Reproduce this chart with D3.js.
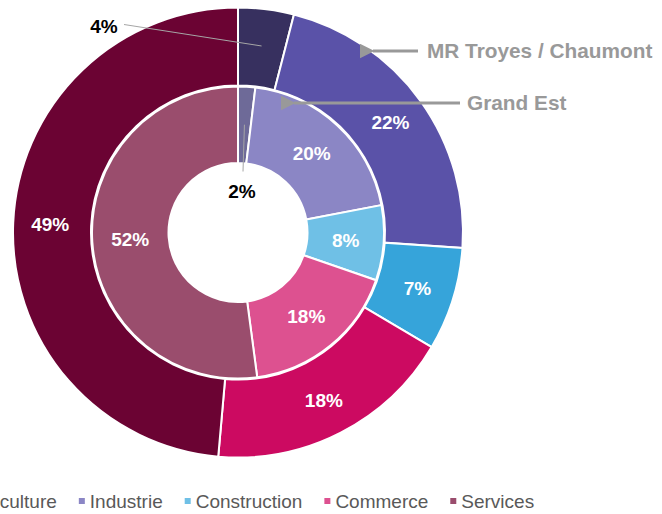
<html>
<head>
<meta charset="utf-8">
<script src="https://d3js.org/d3.v7.min.js"></script>
<style>
  body { margin: 0; background: #ffffff; }
  text { font-family: "Liberation Sans", Arial, sans-serif; }
</style>
</head>
<body>
<div class="chart"></div>
<script>
    // données (étiquettes arrondies)
    var secteurs = ['Agriculture', 'Industrie', 'Construction', 'Commerce', 'Services'];
    var troyes = [4.0, 22.1, 7.4, 17.9, 48.6];     // anneau extérieur
    var grandEst = [1.9, 20.1, 8.3, 17.6, 52.1];   // anneau intérieur
    var seriesNames = ['MR Troyes / Chaumont', 'Grand Est'];

    var outerColors = ['#37305f', '#5a52a8', '#36a4da', '#cc0a61', '#6b0333'];
    var innerColors = ['#6e6a98', '#8b86c5', '#6fc0e6', '#dd5190', '#9a4d6d'];

    var width = 662, height = 514;
    var cx = 238, cy = 232.5;

    var svg = d3.select('.chart').append('svg')
        .attr('width', width).attr('height', height);

    var pie = d3.pie().sort(null).value(function (d) { return d; });

    var rings = [
        { values: troyes, colors: outerColors, inner: 147, outer: 225, labelR: 188 },
        { values: grandEst, colors: innerColors, inner: 69.5, outer: 146, labelR: 108 }
    ];

    var g = svg.append('g').attr('transform', 'translate(' + cx + ',' + cy + ')');

    rings.forEach(function (ring, ri) {
        var arc = d3.arc().innerRadius(ring.inner).outerRadius(ring.outer);
        var labelArc = d3.arc().innerRadius(ring.labelR).outerRadius(ring.labelR);
        var arcs = pie(ring.values);

        g.append('g').selectAll('path')
            .data(arcs).enter()
            .append('path')
            .attr('d', arc)
            .attr('fill', function (d, i) { return ring.colors[i]; })
            .attr('stroke', '#ffffff')
            .attr('stroke-width', 2);

        arcs.forEach(function (d) {
            var c = labelArc.centroid(d);
            var pos = c, color = '#ffffff';
            if (d.value < 5) {
                // petites parts : étiquette déportée avec trait de rappel
                color = '#000000';
                pos = ri === 0 ? [-134, -206] : [4, -41];
                var start = ri === 0 ? [pos[0] + 20, pos[1] - 2] : [pos[0] + 1, pos[1] - 20];
                g.append('line')
                    .attr('x1', start[0]).attr('y1', start[1])
                    .attr('x2', c[0]).attr('y2', c[1])
                    .attr('stroke', '#a6a6a6').attr('stroke-width', 1);
            }
            g.append('text')
                .attr('x', pos[0]).attr('y', pos[1])
                .attr('dy', '0.36em')
                .attr('text-anchor', 'middle')
                .style('font-size', '19px')
                .style('font-weight', 'bold')
                .attr('fill', color)
                .text(Math.round(d.value) + '%');
        });
    });

    // noms des séries avec flèches
    var defs = svg.append('defs');
    defs.append('marker')
        .attr('id', 'arrow')
        .attr('viewBox', '0 0 10 10')
        .attr('refX', 1).attr('refY', 5)
        .attr('markerWidth', 5).attr('markerHeight', 5)
        .attr('orient', 'auto')
        .append('path').attr('d', 'M10,0 L0,5 L10,10 Z').attr('fill', '#999999');

    var callouts = [
        { name: seriesNames[0], tip: [363, 51], tail: [418, 51], textX: 427 },
        { name: seriesNames[1], tip: [284, 103], tail: [460, 103], textX: 467 }
    ];
    callouts.forEach(function (c) {
        svg.append('line')
            .attr('x1', c.tail[0]).attr('y1', c.tail[1])
            .attr('x2', c.tip[0] + 10).attr('y2', c.tip[1])
            .attr('stroke', '#999999').attr('stroke-width', 3)
            .attr('marker-end', 'url(#arrow)');
        svg.append('text')
            .attr('x', c.textX).attr('y', c.tail[1])
            .attr('dy', '0.36em')
            .style('font-size', '20.8px')
            .style('font-weight', 'bold')
            .attr('fill', '#999999')
            .text(c.name);
    });

    // légende
    var legend = svg.append('g').attr('transform', 'translate(0,501)');
    var lx = -45;
    secteurs.forEach(function (s, i) {
        legend.append('rect')
            .attr('x', lx).attr('y', -3)
            .attr('width', 6).attr('height', 6)
            .attr('fill', innerColors[i]);
        var t = legend.append('text')
            .attr('x', lx + 11).attr('y', 0)
            .attr('dy', '0.35em')
            .style('font-size', '19px')
            .attr('fill', '#595959')
            .text(s);
        lx += 11 + t.node().getComputedTextLength() + 22;
    });
</script>
</body>
</html>
